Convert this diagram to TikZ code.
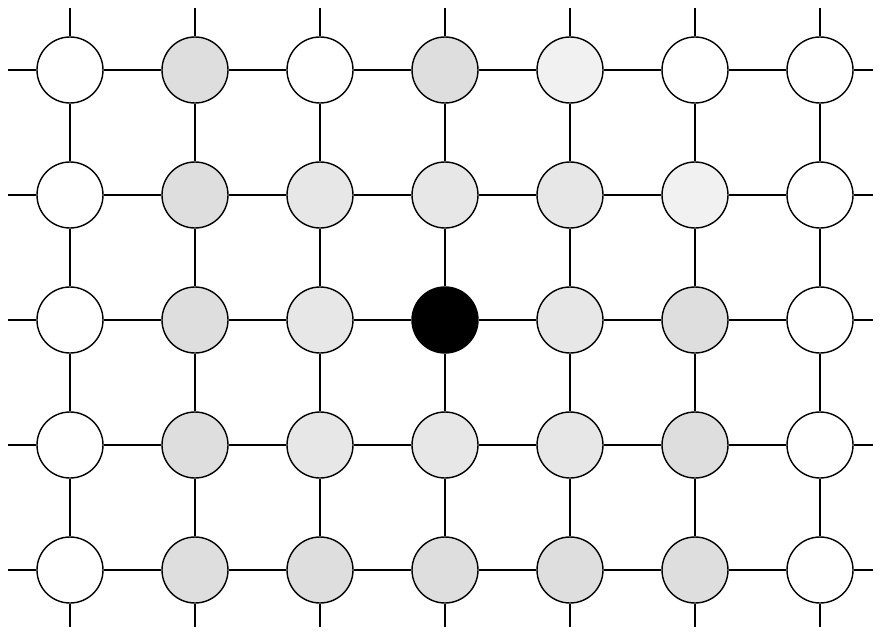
\documentclass[tikz,border=0pt]{standalone}
\begin{document}
\begin{tikzpicture}[line width=0.8pt]
  \tikzstyle{cell}=[draw,circle,minimum size=1.32cm,inner sep=0pt]
  \tikzstyle{wht}=[fill=white]
  \tikzstyle{dot}=[fill=gray!26]
  \tikzstyle{spk}=[fill=gray!19]
  \tikzstyle{pale}=[fill=gray!11]
  \tikzstyle{blk}=[fill=black]
  \useasboundingbox (0,0) rectangle (17.62,12.66);
  % lattice sites, row by row from the top
  \foreach \row [count=\r] in {{wht,dot,wht,dot,pale,wht,wht},
                               {wht,dot,spk,spk,spk,pale,wht},
                               {wht,dot,spk,blk,spk,dot,wht},
                               {wht,dot,spk,spk,spk,dot,wht},
                               {wht,dot,dot,dot,dot,dot,wht}} {
    \foreach \f [count=\c] in \row {
      \node[cell,\f] (n-\r-\c) at ({1.4+2.5*(\c-1)},{11.26-2.5*(\r-1)}) {};
    }
  }
  % bonds
  \foreach \r in {1,...,5} {
    \coordinate (l-\r) at (0.16,{11.26-2.5*(\r-1)});
    \coordinate (r-\r) at (17.46,{11.26-2.5*(\r-1)});
    \draw (l-\r) -- (n-\r-1);
    \draw (n-\r-7) -- (r-\r);
    \foreach \c [evaluate=\c as \d using int(\c+1)] in {1,...,6}
      \draw (n-\r-\c) -- (n-\r-\d);
  }
  \foreach \c in {1,...,7} {
    \coordinate (t-\c) at ({1.4+2.5*(\c-1)},12.50);
    \coordinate (b-\c) at ({1.4+2.5*(\c-1)},0.12);
    \draw (t-\c) -- (n-1-\c);
    \draw (n-5-\c) -- (b-\c);
    \foreach \r [evaluate=\r as \s using int(\r+1)] in {1,...,4}
      \draw (n-\r-\c) -- (n-\s-\c);
  }
\end{tikzpicture}
\end{document}
